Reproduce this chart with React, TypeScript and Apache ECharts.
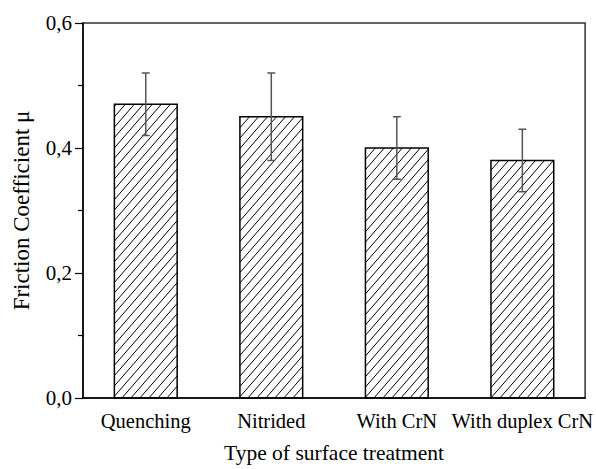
import React, { useEffect, useRef } from "react";
import * as echarts from "echarts";

const categories = ["Quenching", "Nitrided", "With CrN", "With duplex CrN"];
const means = [0.47, 0.45, 0.4, 0.38];
const errors = [0.05, 0.07, 0.05, 0.05];
const yTicks = [0, 0.2, 0.4, 0.6];

const FONT = "Liberation Serif";

export default function App() {
  const ref = useRef<HTMLDivElement>(null);
  useEffect(() => {
    if (!ref.current) return;
    const chart = echarts.init(ref.current, undefined, { renderer: "svg" });
    const barData = categories.map((c, i) => [i, means[i]]);
    const errData = categories.map((c, i) => [i, means[i] - errors[i], means[i] + errors[i]]);
    const option: any = {
      animation: false,
      backgroundColor: "#fff",
      grid: {
        left: 83,
        right: 10,
        top: 23,
        bottom: 70,
        show: true,
        borderColor: "#333",
        borderWidth: 1.5,
        backgroundColor: "transparent",
      },
      xAxis: [
        {
          type: "category",
          data: categories,
          position: "bottom",
          name: "Type of surface treatment",
          nameLocation: "middle",
          nameGap: 44,
          nameTextStyle: { fontFamily: FONT, fontSize: 21.5, color: "#000" },
          axisLine: { lineStyle: { color: "#000", width: 1.5 } },
          axisTick: { alignWithLabel: true, length: 9, lineStyle: { color: "#000", width: 1.2 } },
          axisLabel: { fontFamily: FONT, fontSize: 20.5, color: "#000", margin: 12, interval: 0 },
          splitLine: { show: false },
        },
        {
          type: "category",
          data: categories,
          position: "bottom",
          axisLine: { show: false },
          axisTick: { alignWithLabel: false, length: 4, lineStyle: { color: "#000", width: 1.2 } },
          axisLabel: { show: false },
          splitLine: { show: false },
        },
      ],
      yAxis: {
        type: "value",
        min: 0,
        max: 0.6,
        interval: 0.2,
        name: "Friction Coefficient μ",
        nameLocation: "middle",
        nameGap: 50,
        nameTextStyle: { fontFamily: FONT, fontSize: 23, color: "#000" },
        axisLine: { show: true, lineStyle: { color: "#000", width: 1.5 } },
        axisTick: { show: true, length: 8, lineStyle: { color: "#000", width: 1.2 } },
        minorTick: { show: true, splitNumber: 2, length: 5, lineStyle: { color: "#000", width: 1.2 } },
        axisLabel: {
          fontFamily: FONT,
          fontSize: 21,
          color: "#000",
          margin: 11,
          formatter: (v: number) => {
            const t = yTicks.find((x) => Math.abs(x - v) < 1e-9);
            return t === undefined ? "" : t.toFixed(1).replace(".", ",");
          },
        },
        splitLine: { show: false },
      },
      series: [
        {
          type: "custom",
          data: barData,
          encode: { x: 0, y: 1 },
          renderItem: (params: any, api: any) => {
            const xi = api.value(0);
            const v = api.value(1);
            const top = api.coord([xi, v]);
            const base = api.coord([xi, 0]);
            const bw = api.size([1, 0])[0] * 0.5;
            const x0 = top[0] - bw / 2;
            const x1 = top[0] + bw / 2;
            const y0 = top[1];
            const y1 = base[1];
            const slope = 1.15;
            const step = 9 * slope;
            const children: any[] = [];
            const cMin = slope * x0 + y0;
            const cMax = slope * x1 + y1;
            let c = Math.ceil(cMin / step) * step;
            for (; c <= cMax; c += step) {
              const xa = Math.max(x0, (c - y1) / slope);
              const xb = Math.min(x1, (c - y0) / slope);
              if (xb - xa > 0.3) {
                children.push({
                  type: "line",
                  shape: { x1: xa, y1: c - slope * xa, x2: xb, y2: c - slope * xb },
                  style: { stroke: "#000", lineWidth: 1 },
                });
              }
            }
            children.push({
              type: "rect",
              shape: { x: x0, y: y0, width: bw, height: y1 - y0 },
              style: { fill: "none", stroke: "#000", lineWidth: 1.5 },
            });
            return { type: "group", children };
          },
          z: 2,
        },
        {
          type: "custom",
          data: errData,
          encode: { x: 0, y: [1, 2] },
          renderItem: (params: any, api: any) => {
            const xi = api.value(0);
            const lo = api.coord([xi, api.value(1)]);
            const hi = api.coord([xi, api.value(2)]);
            const cw = 4;
            const st = { stroke: "#555", lineWidth: 1.5 };
            return {
              type: "group",
              children: [
                { type: "line", shape: { x1: lo[0], y1: lo[1], x2: hi[0], y2: hi[1] }, style: st },
                { type: "line", shape: { x1: hi[0] - cw, y1: hi[1], x2: hi[0] + cw, y2: hi[1] }, style: st },
                { type: "line", shape: { x1: lo[0] - cw, y1: lo[1], x2: lo[0] + cw, y2: lo[1] }, style: st },
              ],
            };
          },
          z: 3,
        },
      ],
    };
    chart.setOption(option);
    return () => chart.dispose();
  }, []);
  return (
    <div
      ref={ref}
      style={{ position: "fixed", left: 0, top: 0, width: 596, height: 469, background: "#fff" }}
    />
  );
}
